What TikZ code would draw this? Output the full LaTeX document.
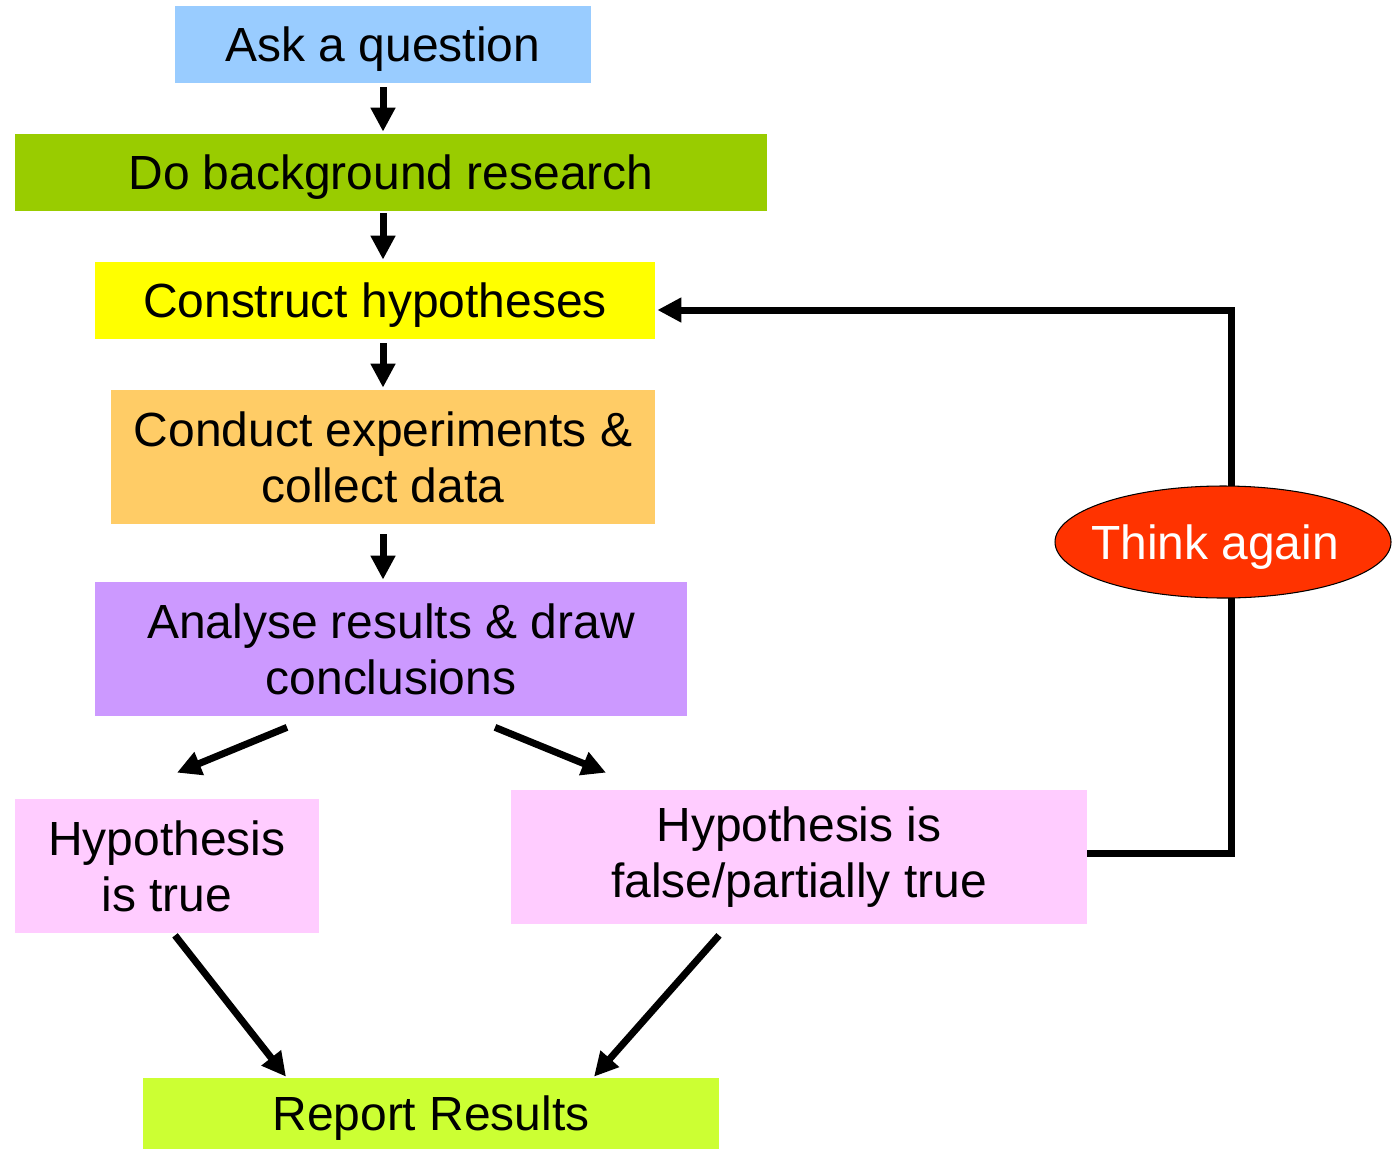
\documentclass[tikz,border=0pt]{standalone}
\usepackage{fontspec}
\setmainfont{Liberation Sans}
\usetikzlibrary{arrows.meta,shapes.geometric,calc}
\definecolor{askblue}{HTML}{99CCFF}
\definecolor{resgreen}{HTML}{99CC00}
\definecolor{hypyellow}{HTML}{FFFF00}
\definecolor{expamber}{HTML}{FFCC66}
\definecolor{anlilac}{HTML}{CC99FF}
\definecolor{outpink}{HTML}{FFCCFF}
\definecolor{replime}{HTML}{CCFF33}
\definecolor{thinkred}{HTML}{FF3300}
\tikzset{
  box/.style={inner sep=0pt,align=center,font=\fontsize{27.3}{32}\selectfont},
  oneline/.style={box,text depth=0pt},
  arr/.style={-{Triangle[length=0.48cm,width=0.47cm]},line width=0.14cm}
}

\begin{document}
\begin{tikzpicture}[line join=miter,x=0.02cm,y=-0.02cm]
			\useasboundingbox (0,0) rectangle (1398,1150);
			% steps
			\node[oneline,fill=askblue,minimum width=416*0.02cm,minimum height=77*0.02cm] (ask) at (383,44.5) {Ask a question};
			\node[oneline,fill=resgreen,minimum width=752*0.02cm,minimum height=77*0.02cm] (bg) at (391,172.5) {Do background research};
			\node[oneline,fill=hypyellow,minimum width=560*0.02cm,minimum height=77*0.02cm] (hyp) at (375,300.5) {Construct hypotheses};
			\node[box,fill=expamber,minimum width=544*0.02cm,minimum height=134*0.02cm] (exp) at (383,457) {Conduct experiments \&\\collect data};
			\node[box,fill=anlilac,minimum width=592*0.02cm,minimum height=134*0.02cm] (an) at (391,649) {Analyse results \& draw\\conclusions};
			\node[box,fill=outpink,minimum width=304*0.02cm,minimum height=134*0.02cm] (htrue) at (167,866) {Hypothesis\\is true};
			\node[box,fill=outpink,minimum width=576*0.02cm,minimum height=134*0.02cm] (hfalse) at (799,857) {Hypothesis is\\false/partially true};
			\node[oneline,fill=replime,minimum width=576*0.02cm,minimum height=71*0.02cm] (rep) at (431,1113.5) {Report Results};
			% arrows
			\draw[arr,shorten <=4*0.02cm,shorten >=2*0.02cm] (ask.south) -- (ask.south |- bg.north);
			\draw[arr,shorten <=2*0.02cm,shorten >=2*0.02cm] (bg.south -| ask.south) -- (ask.south |- hyp.north);
			\draw[arr,shorten <=4*0.02cm,shorten >=2*0.02cm] (hyp.south -| ask.south) -- (exp.north);
			\draw[arr,shorten <=10*0.02cm,shorten >=2*0.02cm] (exp.south) -- (exp.south |- an.north);
			\draw[arr] ($(an.south)+(-104,11)$) -- ($(htrue.north)+(10,-26)$);
			\draw[arr] ($(an.south)+(104,11)$) -- ($(hfalse.north)+(-193,-17)$);
			\draw[arr] ($(htrue.south)+(8,2)$) -- ($(rep.north)+(-145,-1)$);
			\draw[arr] ($(hfalse.south)+(-80,11)$) -- ($(rep.north)+(163,-1)$);
			% loop back
			\coordinate (c1) at (1231,853);
			\coordinate (c2) at (1231,310);
			\draw[arr,shorten >=2*0.02cm] (hfalse.east |- c1) -- (c1) -- (c2) -- (c2 -| hyp.east);
			\node[ellipse,draw=black,line width=0.6pt,fill=thinkred,text=white,oneline,minimum width=336*0.02cm,minimum height=112*0.02cm] (think) at (1223,542) {\makebox[0pt]{Think again\hspace*{0.32cm}}};
		\end{tikzpicture}
\end{document}
